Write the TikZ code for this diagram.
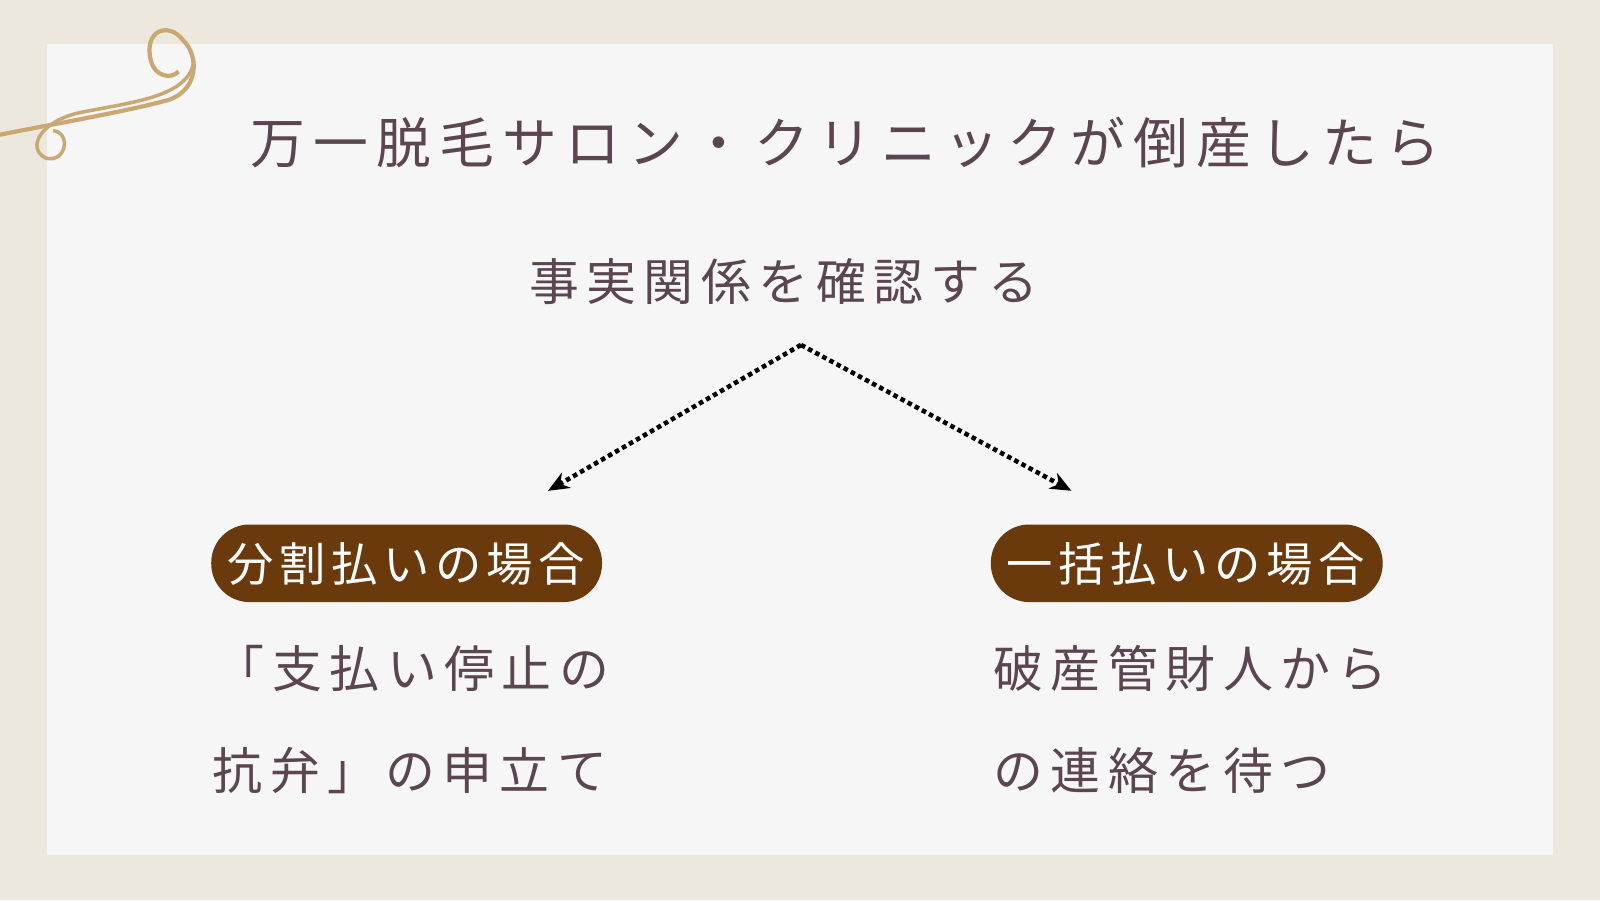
\documentclass[tikz,border=0pt]{standalone}
\usepackage{fontspec}
\setmainfont{Noto Sans CJK JP}
\newfontfamily\jpT[LetterSpace=15]{Noto Sans CJK JP}
\newfontfamily\jpP[LetterSpace=12]{Noto Sans CJK JP}
\usetikzlibrary{arrows.meta}
\definecolor{bgc}{HTML}{EDE8DD}
\definecolor{card}{HTML}{F6F6F6}
\definecolor{txt}{HTML}{5A4550}
\definecolor{pill}{HTML}{6B3A0C}
\definecolor{gold}{HTML}{C9A874}
\begin{document}
\begin{tikzpicture}[x=0.010204cm,y=-0.010204cm,
  body/.style={anchor=west,inner sep=0,text=txt,font=\jpT\fontsize{14.2}{17}\selectfont},
  pilltext/.style={anchor=west,inner sep=0,text=white,font=\jpP\fontsize{13.2}{16}\selectfont},
  pillbg/.style={fill=pill,rounded corners=10.9pt},
  conn/.style={densely dotted,line width=1.3pt,-{Stealth[length=6pt,width=5pt]}}]
\useasboundingbox (0,0) rectangle (1568,882);
\fill[bgc] (0,0) rectangle (1568,882);
\fill[card] (46,43) rectangle (1522,838);
% ornament
\draw[gold,line width=1.2pt] (0,132) .. controls (60,120) and (120,110) .. (165,98) .. controls (195,88) and (195,55) .. (180,40) .. controls (165,20) and (140,30) .. (148,60) .. controls (152,75) and (168,78) .. (175,70);
\draw[gold,line width=1pt] (190,60) .. controls (185,95) and (130,100) .. (80,110) .. controls (40,118) and (25,145) .. (45,155) .. controls (65,160) and (70,130) .. (52,128);
\node[anchor=west,inner sep=0,text=txt,font=\jpT\fontsize{15.6}{19}\selectfont] (title) at (245,140) {万一脱毛サロン・クリニックが倒産したら};
\node[body] (sub) at (518,276) {事実関係を確認する};
\coordinate (top) at (785,338);
\coordinate (la) at (537,481);
\coordinate (ra) at (1050,481);
\draw[conn] (top) -- (la);
\draw[conn] (top) -- (ra);
\fill[pillbg] (207,514) rectangle (590,590);
\fill[pillbg] (971,514) rectangle (1355,590);
\node[pilltext] (lp) at (222,553) {分割払いの場合};
\node[pilltext] (rp) at (986,553) {一括払いの場合};
\node[body] (l1) at (210,655) {「支払い停止の};
\node[body] (l2) at (208,755) {抗弁」の申立て};
\node[body] (r1) at (973,655) {破産管財人から};
\node[body] (r2) at (973,755) {の連絡を待つ};
\end{tikzpicture}
\end{document}
